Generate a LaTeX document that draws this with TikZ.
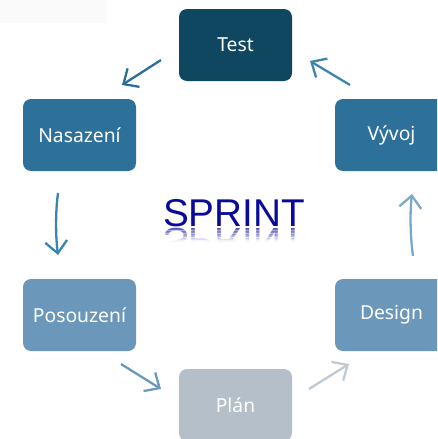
\documentclass[tikz,border=0pt]{standalone}
\usepackage{fontspec}
\setmainfont{Noto Sans}
\newfontfamily\arialfont{Liberation Sans}
\usetikzlibrary{arrows.meta}
\definecolor{cTest}{HTML}{0F4761}
\definecolor{cMid}{HTML}{2D7099}
\definecolor{cLight}{HTML}{6A97BA}
\definecolor{cPale}{HTML}{B4BFC9}
\definecolor{aOne}{HTML}{2A6F98}
\definecolor{aTwo}{HTML}{3A85B0}
\definecolor{aThree}{HTML}{3886B0}
\definecolor{aFour}{HTML}{7DA8C7}
\definecolor{aFive}{HTML}{6999BB}
\definecolor{aSix}{HTML}{C0CAD4}
\definecolor{cSprint}{HTML}{0A0A9A}
\begin{document}
\begin{tikzpicture}[x=1pt,y=-1pt,
  box/.style={rounded corners=8pt, minimum width=113pt, minimum height=72pt,
    inner sep=0pt, text=white, font=\fontsize{19.3}{22}\selectfont},
  arr/.style={line width=2.3pt, -{Straight Barb[length=12pt,width=22pt]}},
  sprint/.style={text=cSprint, font=\arialfont\fontsize{38.7}{40}\selectfont, inner sep=0pt, anchor=base}]
\useasboundingbox (0,0) rectangle (437,439);
\begin{scope}
\clip (0,0) rectangle (437,439);
\fill[gray!4] (0,0) rectangle (107,23);
\node[box, fill=cTest] (test) at (235.5,45) {Test};
\node[box, fill=cMid] (nas) at (79.5,135) {Nasazení};
\node[box, fill=cMid] (vyv) at (391.5,135) {Vývoj};
\node[box, fill=cLight] (pos) at (79.5,315) {Posouzení};
\node[box, fill=cLight] (des) at (391.5,315) {Design};
\node[box, fill=cPale] (plan) at (235.5,405) {Plán};
\end{scope}
\coordinate (a1s) at (161,60); \coordinate (a1e) at (122,85);
\coordinate (a2s) at (350,85); \coordinate (a2e) at (310,61);
\coordinate (a3s) at (58,193); \coordinate (a3e) at (58,255);
\coordinate (a4s) at (413,256); \coordinate (a4e) at (412,194);
\coordinate (a5s) at (121,364); \coordinate (a5e) at (161,389);
\coordinate (a6s) at (309,389); \coordinate (a6e) at (349,364);
\draw[arr, aOne] (a1s) -- (a1e);
\draw[arr, aTwo] (a2s) -- (a2e);
\draw[arr, aThree] (a3s) .. controls (55,215) and (56,240) .. (a3e);
\draw[arr, aFour] (a4s) .. controls (410,235) and (410,210) .. (a4e);
\draw[arr, aFive] (a5s) -- (a5e);
\draw[arr, aSix] (a6s) -- (a6e);
\node[sprint] (sprint) at (234,226) {SPRINT};
\foreach \i in {0,...,9} {
  \begin{scope}
    \clip (150,{227+1.4*\i}) rectangle (320,{227+1.4*(\i+1)});
    \node[sprint, yscale=-1, transform shape, opacity={0.45*(1-\i/10)}] (refl\i) at (234,228) {SPRINT};
  \end{scope}
}
\end{tikzpicture}
\end{document}
